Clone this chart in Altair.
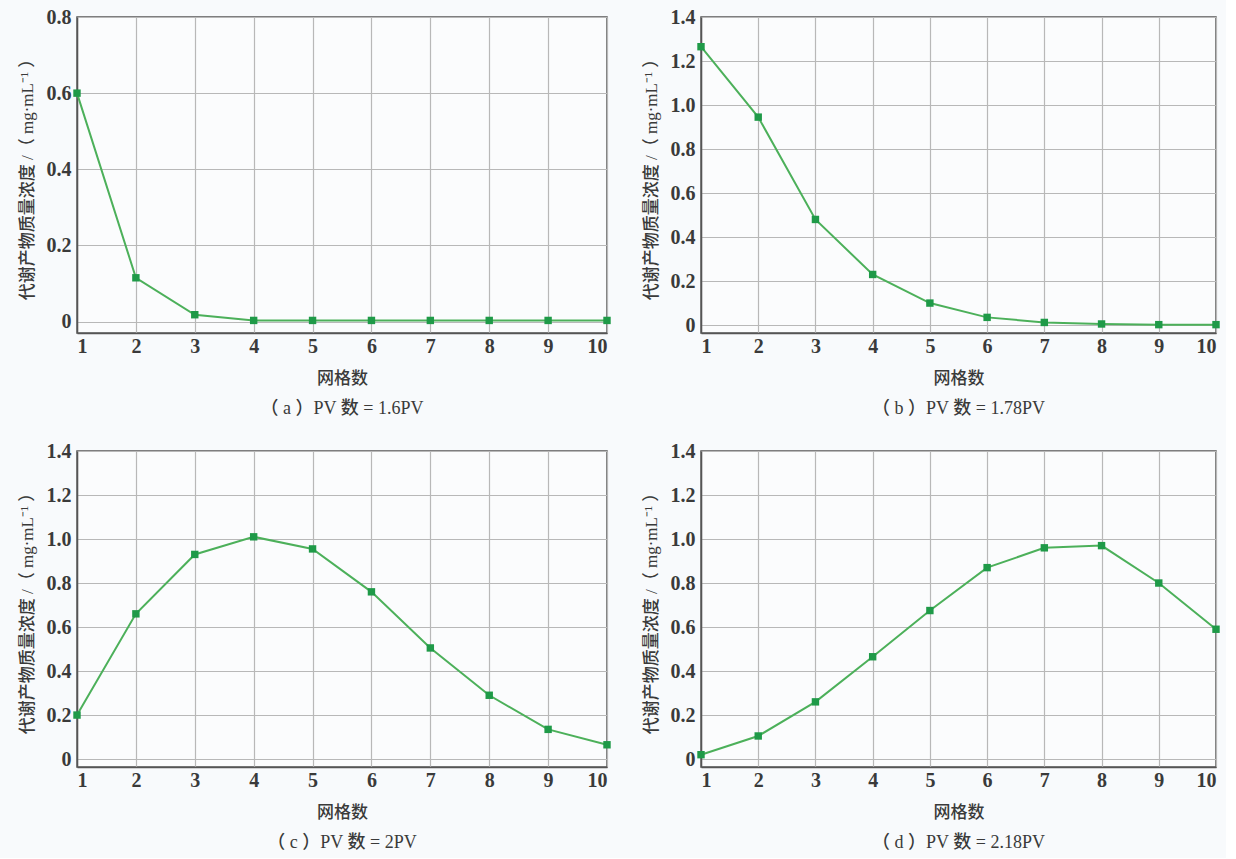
import altair as alt
import pandas as pd

grid_x = [1, 2, 3, 4, 5, 6, 7, 8, 9, 10]
conc_a = [0.600, 0.115, 0.018, 0.003, 0.003, 0.003, 0.003, 0.003, 0.003, 0.003]
conc_b = [1.265, 0.945, 0.480, 0.230, 0.100, 0.035, 0.012, 0.005, 0.002, 0.002]
conc_c = [0.200, 0.660, 0.930, 1.010, 0.955, 0.760, 0.505, 0.290, 0.135, 0.065]
conc_d = [0.020, 0.105, 0.260, 0.465, 0.675, 0.870, 0.960, 0.970, 0.800, 0.590]
captions = ["（ a ）PV 数 = 1.6PV", "（ b ）PV 数 = 1.78PV", "（ c ）PV 数 = 2PV", "（ d ）PV 数 = 2.18PV"]
y_max = [0.8, 1.4, 1.4, 1.4]
y_min = [-0.03, -0.036, -0.036, -0.036]

X_TITLE = "网格数"
Y_TITLE = "代谢产物质量浓度 /（ mg·mL⁻¹ ）"
FONT = "'Liberation Serif', 'Noto Sans CJK SC'"
CJK = "'Noto Sans CJK SC'"
LINE = "#4cb05a"
MARK = "#1f9a48"
TXT = "#3a3a3a"


def panel(vals, cap, ymax, ymin, w, h):
    df = pd.DataFrame({"x": grid_x, "y": vals})
    ticks = [round(i * 0.2, 1) for i in range(int(round(ymax / 0.2)) + 1)]
    xs = alt.X("x:Q", scale=alt.Scale(domain=[1, 10], nice=False, zero=False),
               axis=alt.Axis(values=grid_x, format="d", title=X_TITLE,
                             titleFont=CJK, titleFontSize=17, titleColor=TXT,
                             titleFontWeight=500, titlePadding=14,
                             labelFont=FONT, labelFontSize=20, labelColor=TXT,
                             labelFontWeight="bold",
                             labelPadding=3, ticks=False,
                             gridColor="#b8b8b8", gridWidth=1.2,
                             domainColor="#555", domainWidth=1.5))
    ys = alt.Y("y:Q", scale=alt.Scale(domain=[ymin, ymax], nice=False, zero=False),
               axis=alt.Axis(values=ticks, title=Y_TITLE,
                             labelExpr="datum.value == 0 ? '0' : format(datum.value, '.1f')",
                             titleFont=FONT, titleFontSize=17, titleColor=TXT,
                             titleFontWeight=500, titlePadding=10,
                             labelFont=FONT, labelFontSize=20, labelColor=TXT,
                             labelFontWeight="bold",
                             labelPadding=6, ticks=False,
                             gridColor="#b8b8b8", gridWidth=1.2,
                             domainColor="#555", domainWidth=1.5))
    base = alt.Chart(df).encode(x=xs, y=ys)
    line = base.mark_line(color=LINE, strokeWidth=2)
    pts = base.mark_point(shape="square", filled=True, size=55, color=MARK, opacity=1)
    return (line + pts).properties(
        width=w, height=h,
        title=alt.TitleParams(cap, orient="bottom", font=FONT, fontSize=18,
                              fontWeight=500, color=TXT, offset=14),
    )


pa = panel(conc_a, captions[0], y_max[0], y_min[0], 530, 316)
pb = panel(conc_b, captions[1], y_max[1], y_min[1], 515, 316)
pc = panel(conc_c, captions[2], y_max[2], y_min[2], 530, 316)
pd_ = panel(conc_d, captions[3], y_max[3], y_min[3], 515, 316)

chart = alt.vconcat(
    alt.hconcat(pa, pb, spacing=29),
    alt.hconcat(pc, pd_, spacing=29),
    spacing=21,
).properties(
    padding={"left": 17, "top": 6, "right": 5, "bottom": 5},
    background="#f8fafc",
).configure_view(
    stroke="#555", strokeWidth=1.5, fill="#fbfcfd"
)

chart.save("out.html", embed_options={"renderer": "svg", "actions": False})
